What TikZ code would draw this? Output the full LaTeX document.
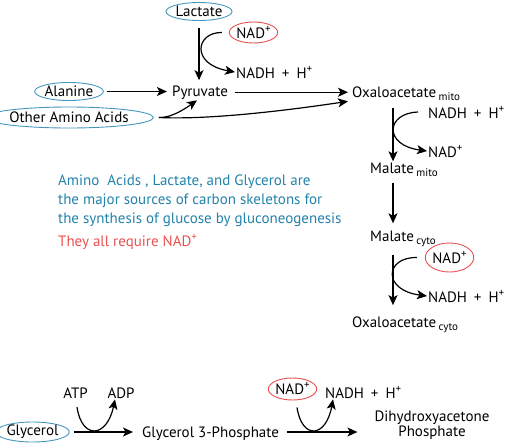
\documentclass[tikz,border=0pt]{standalone}
\usepackage{fontspec}
\setmainfont{PT Sans}
\usetikzlibrary{arrows.meta,shapes.geometric}
\definecolor{eblue}{RGB}{70,150,190}
\definecolor{tblue}{RGB}{35,130,170}
\definecolor{ered}{RGB}{235,80,80}
\newcommand\mysub[1]{\,\raisebox{-0.4ex}{\fontsize{11}{11}\selectfont #1}}
\newcommand\mysup[1]{\raisebox{0.8ex}{\fontsize{11}{11}\selectfont #1}}
\newcommand\nadhh{NADH\hspace{7pt}+\hspace{7pt}H\mysup{+}}
\tikzset{
  lbl/.style={font=\fontsize{15}{15}\selectfont, inner sep=1pt},
  bell/.style={lbl, draw=eblue, line width=0.9pt, ellipse, inner sep=0pt},
  rell/.style={lbl, draw=ered, line width=0.9pt, ellipse, inner sep=0pt},
  arr/.style={-{Stealth[length=10pt,width=9pt,inset=2.5pt]}, line width=1.2pt},
  notetxt/.style={font=\fontsize{15}{15}\selectfont, inner sep=0pt, anchor=base west}
}
\begin{document}
\begin{tikzpicture}[x=1pt,y=-1pt]
\useasboundingbox (0,0) rectangle (506,445);
\coordinate (colx) at (393,0);

% ---- top left
\node[bell, minimum width=58pt, minimum height=18pt] (lac) at (199,11.5) {Lactate};
\node[rell, minimum width=47pt, minimum height=21pt] (nadA) at (253.5,32.5) {NAD\mysup{+}};
\node[lbl, anchor=base west] (nadhA) at (235,78) {\nadhh};
\node[lbl, anchor=base] (pyr) at (200,96) {Pyruvate};
\node[bell, minimum width=58pt, minimum height=18pt] (ala) at (69,91.5) {Alanine};
\node[bell, minimum width=137pt, minimum height=21pt] (oaa) at (69,117.5) {Other Amino Acids};
\node[lbl, anchor=base west] (oxm) at (351,97) {Oxaloacetate\mysub{mito}};

\draw[arr, shorten <=7pt, shorten >=4pt] (lac.south) -- (lac.south |- pyr.north);
\draw[arr] ([xshift=-7pt]nadA.west) .. controls (196,32) and (190,64) .. (nadhA.west);
\draw[arr, shorten <=3pt, shorten >=4pt] (ala.east) -- (ala.east -| pyr.west);
\draw[arr, shorten <=6pt, shorten >=3pt] (pyr.east) -- (pyr.east -| oxm.west);
\draw[arr] ([xshift=5pt]oaa.east) .. controls (172,118) and (186,108) .. ([xshift=-3pt]pyr.south);
\draw[arr] ([xshift=5pt]oaa.east) .. controls (210,120) and (290,110) .. ([xshift=-3pt]oxm.south west);

% ---- right column
\node[lbl, anchor=base west] (nadhB) at (427,118) {\nadhh};
\node[lbl, anchor=base west] (nadB) at (427,157) {NAD\mysup{+}};
\node[lbl, anchor=base west] (malm) at (369,173) {Malate\mysub{mito}};
\node[lbl, anchor=base west] (malc) at (369,241) {Malate\mysub{cyto}};
\node[rell, minimum width=47pt, minimum height=29pt] (nadC) at (449.5,257.5) {NAD\mysup{+}};
\node[lbl, anchor=base west] (nadhC) at (427,302) {\nadhh};
\node[lbl, anchor=base west] (oxc) at (351,327) {Oxaloacetate\mysub{cyto}};

\draw[arr, shorten <=7pt] (oxm.south -| colx) -- (malm.north -| colx);
\draw[arr] ([xshift=-9pt]nadhB.west) .. controls (386,113) and (383,145) .. (nadB.west);
\draw[arr, shorten <=6pt, shorten >=6pt] (malm.south -| colx) -- (malc.north -| colx);
\draw[arr, shorten <=8pt, shorten >=10pt] (malc.south -| colx) -- (oxc.north -| colx);
\draw[arr] ([xshift=-8pt]nadC.west) .. controls (385,257) and (382,290) .. (nadhC.west);

% ---- note text
\node[notetxt, text=tblue] (n1) at (58,185) {Amino\ \ Acids , Lactate, and Glycerol are};
\node[notetxt, text=tblue] (n2) at (58,204) {the major sources of carbon skeletons for};
\node[notetxt, text=tblue] (n3) at (58,223) {the synthesis of glucose by gluconeogenesis};
\node[notetxt, text=ered] (n4) at (58,246) {They all require NAD\mysup{+}};

% ---- bottom
\node[bell, minimum width=61pt, minimum height=20pt] (gly) at (32.5,432) {Glycerol};
\node[lbl, anchor=base] (atp) at (75.5,398) {ATP};
\node[lbl, anchor=base] (adp) at (121,398) {ADP};
\node[lbl, anchor=base west] (g3p) at (141,437) {Glycerol 3-Phosphate};
\node[rell, minimum width=45pt, minimum height=22pt] (nadD) at (292.5,389) {NAD\mysup{+}};
\node[lbl, anchor=base west] (nadhD) at (324,398) {\nadhh};
\node[lbl, align=center] (dhap) at (432,425) {Dihydroxyacetone\\Phosphate};

\draw[arr, shorten <=4pt, shorten >=8pt] (gly.east) -- (gly.east -| g3p.west);
\draw[arr] ([xshift=1.5pt, yshift=-8pt]atp.south) .. controls (82,440) and (107,438) .. ([xshift=-6pt]adp.south);
\draw[arr, shorten <=7pt, shorten >=16pt] (g3p.east |- gly.east) -- (dhap.west |- gly.east);
\draw[arr] ([xshift=4.5pt, yshift=-7pt]nadD.south) .. controls (302,440) and (326,438) .. ([xshift=9pt]nadhD.south west);
\end{tikzpicture}
\end{document}
